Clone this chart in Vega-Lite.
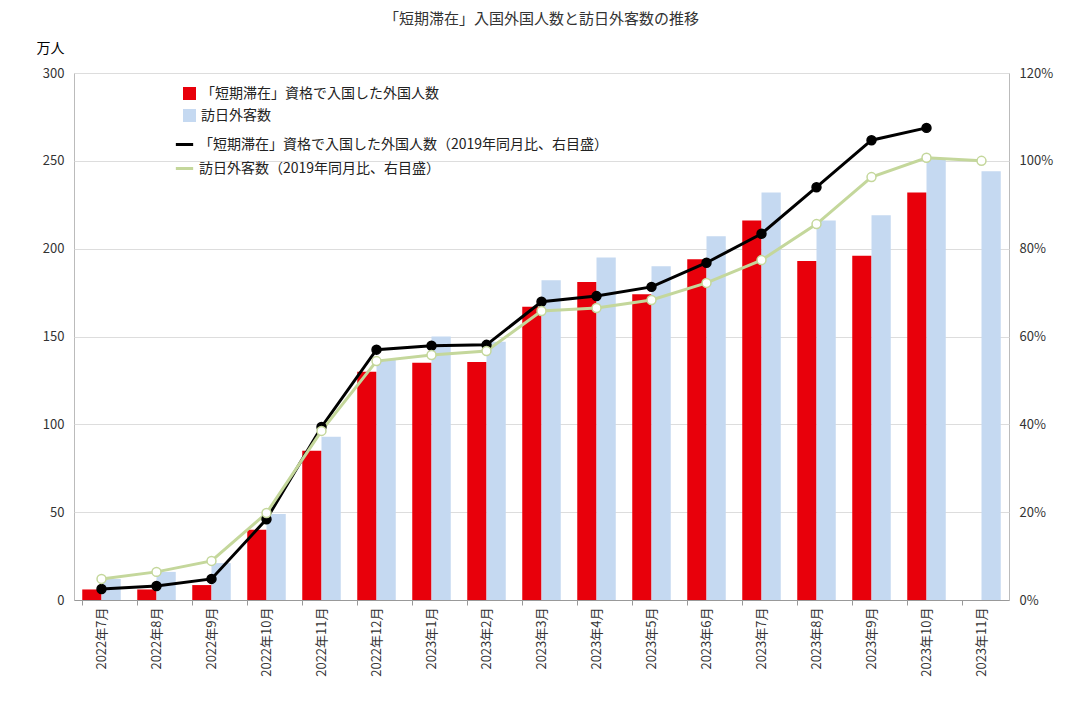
{
  "$schema": "https://vega.github.io/schema/vega-lite/v6.json",
  "width": 935,
  "height": 527,
  "padding": {"left": 36, "top": 12, "right": 10, "bottom": 5},
  "title": {"text": "「短期滞在」入国外国人数と訪日外客数の推移", "fontSize": 15, "font": "Noto Sans CJK JP", "fontWeight": "normal", "color": "#333", "offset": 14},
  "config": {"font": "Noto Sans CJK JP", "view": {"stroke": "#bbb"}},
  "datasets": {
    "bars": [
      {"month": "2022年7月", "series": "「短期滞在」資格で入国した外国人数", "value": 6},
      {"month": "2022年8月", "series": "「短期滞在」資格で入国した外国人数", "value": 6},
      {"month": "2022年9月", "series": "「短期滞在」資格で入国した外国人数", "value": 8.5},
      {"month": "2022年10月", "series": "「短期滞在」資格で入国した外国人数", "value": 40},
      {"month": "2022年11月", "series": "「短期滞在」資格で入国した外国人数", "value": 85},
      {"month": "2022年12月", "series": "「短期滞在」資格で入国した外国人数", "value": 130},
      {"month": "2023年1月", "series": "「短期滞在」資格で入国した外国人数", "value": 135},
      {"month": "2023年2月", "series": "「短期滞在」資格で入国した外国人数", "value": 135.5},
      {"month": "2023年3月", "series": "「短期滞在」資格で入国した外国人数", "value": 167},
      {"month": "2023年4月", "series": "「短期滞在」資格で入国した外国人数", "value": 181},
      {"month": "2023年5月", "series": "「短期滞在」資格で入国した外国人数", "value": 174},
      {"month": "2023年6月", "series": "「短期滞在」資格で入国した外国人数", "value": 194},
      {"month": "2023年7月", "series": "「短期滞在」資格で入国した外国人数", "value": 216},
      {"month": "2023年8月", "series": "「短期滞在」資格で入国した外国人数", "value": 193},
      {"month": "2023年9月", "series": "「短期滞在」資格で入国した外国人数", "value": 196},
      {"month": "2023年10月", "series": "「短期滞在」資格で入国した外国人数", "value": 232},
      {"month": "2022年7月", "series": "訪日外客数", "value": 12},
      {"month": "2022年8月", "series": "訪日外客数", "value": 16},
      {"month": "2022年9月", "series": "訪日外客数", "value": 21},
      {"month": "2022年10月", "series": "訪日外客数", "value": 49},
      {"month": "2022年11月", "series": "訪日外客数", "value": 93},
      {"month": "2022年12月", "series": "訪日外客数", "value": 137},
      {"month": "2023年1月", "series": "訪日外客数", "value": 150},
      {"month": "2023年2月", "series": "訪日外客数", "value": 147},
      {"month": "2023年3月", "series": "訪日外客数", "value": 182},
      {"month": "2023年4月", "series": "訪日外客数", "value": 195},
      {"month": "2023年5月", "series": "訪日外客数", "value": 190},
      {"month": "2023年6月", "series": "訪日外客数", "value": 207},
      {"month": "2023年7月", "series": "訪日外客数", "value": 232},
      {"month": "2023年8月", "series": "訪日外客数", "value": 216},
      {"month": "2023年9月", "series": "訪日外客数", "value": 219},
      {"month": "2023年10月", "series": "訪日外客数", "value": 251},
      {"month": "2023年11月", "series": "訪日外客数", "value": 244}
    ],
    "lines": [
      {"month": "2022年7月", "series": "「短期滞在」資格で入国した外国人数（2019年同月比、右目盛）", "value": 0.025},
      {"month": "2022年8月", "series": "「短期滞在」資格で入国した外国人数（2019年同月比、右目盛）", "value": 0.032},
      {"month": "2022年9月", "series": "「短期滞在」資格で入国した外国人数（2019年同月比、右目盛）", "value": 0.048},
      {"month": "2022年10月", "series": "「短期滞在」資格で入国した外国人数（2019年同月比、右目盛）", "value": 0.184},
      {"month": "2022年11月", "series": "「短期滞在」資格で入国した外国人数（2019年同月比、右目盛）", "value": 0.394},
      {"month": "2022年12月", "series": "「短期滞在」資格で入国した外国人数（2019年同月比、右目盛）", "value": 0.57},
      {"month": "2023年1月", "series": "「短期滞在」資格で入国した外国人数（2019年同月比、右目盛）", "value": 0.579},
      {"month": "2023年2月", "series": "「短期滞在」資格で入国した外国人数（2019年同月比、右目盛）", "value": 0.581},
      {"month": "2023年3月", "series": "「短期滞在」資格で入国した外国人数（2019年同月比、右目盛）", "value": 0.679},
      {"month": "2023年4月", "series": "「短期滞在」資格で入国した外国人数（2019年同月比、右目盛）", "value": 0.692},
      {"month": "2023年5月", "series": "「短期滞在」資格で入国した外国人数（2019年同月比、右目盛）", "value": 0.713},
      {"month": "2023年6月", "series": "「短期滞在」資格で入国した外国人数（2019年同月比、右目盛）", "value": 0.768},
      {"month": "2023年7月", "series": "「短期滞在」資格で入国した外国人数（2019年同月比、右目盛）", "value": 0.834},
      {"month": "2023年8月", "series": "「短期滞在」資格で入国した外国人数（2019年同月比、右目盛）", "value": 0.94},
      {"month": "2023年9月", "series": "「短期滞在」資格で入国した外国人数（2019年同月比、右目盛）", "value": 1.047},
      {"month": "2023年10月", "series": "「短期滞在」資格で入国した外国人数（2019年同月比、右目盛）", "value": 1.075},
      {"month": "2022年7月", "series": "訪日外客数（2019年同月比、右目盛）", "value": 0.048},
      {"month": "2022年8月", "series": "訪日外客数（2019年同月比、右目盛）", "value": 0.064},
      {"month": "2022年9月", "series": "訪日外客数（2019年同月比、右目盛）", "value": 0.089},
      {"month": "2022年10月", "series": "訪日外客数（2019年同月比、右目盛）", "value": 0.198},
      {"month": "2022年11月", "series": "訪日外客数（2019年同月比、右目盛）", "value": 0.385},
      {"month": "2022年12月", "series": "訪日外客数（2019年同月比、右目盛）", "value": 0.544},
      {"month": "2023年1月", "series": "訪日外客数（2019年同月比、右目盛）", "value": 0.558},
      {"month": "2023年2月", "series": "訪日外客数（2019年同月比、右目盛）", "value": 0.567},
      {"month": "2023年3月", "series": "訪日外客数（2019年同月比、右目盛）", "value": 0.658},
      {"month": "2023年4月", "series": "訪日外客数（2019年同月比、右目盛）", "value": 0.665},
      {"month": "2023年5月", "series": "訪日外客数（2019年同月比、右目盛）", "value": 0.683},
      {"month": "2023年6月", "series": "訪日外客数（2019年同月比、右目盛）", "value": 0.722},
      {"month": "2023年7月", "series": "訪日外客数（2019年同月比、右目盛）", "value": 0.774},
      {"month": "2023年8月", "series": "訪日外客数（2019年同月比、右目盛）", "value": 0.856},
      {"month": "2023年9月", "series": "訪日外客数（2019年同月比、右目盛）", "value": 0.963},
      {"month": "2023年10月", "series": "訪日外客数（2019年同月比、右目盛）", "value": 1.007},
      {"month": "2023年11月", "series": "訪日外客数（2019年同月比、右目盛）", "value": 1.0}
    ]
  },
  "encoding": {
    "x": {"field": "month", "type": "nominal", "sort": null, "title": null,
      "scale": {"paddingInner": 0.3, "paddingOuter": 0.15},
      "axis": {"labelAngle": -90, "labelFontSize": 13, "labelColor": "#333", "domainColor": "#999", "tickColor": "#999", "ticks": true, "bandPosition": 0}
    }
  },
  "layer": [
    {
      "data": {"name": "bars"},
      "mark": {"type": "bar"},
      "encoding": {
        "xOffset": {"field": "series", "type": "nominal", "sort": null},
        "y": {"field": "value", "type": "quantitative", "scale": {"domain": [0, 300]},
          "axis": {"title": "万人", "titleAngle": 0, "titleAlign": "left", "titleX": -38, "titleY": -18, "titleFontSize": 14, "titleFontWeight": "normal", "values": [0, 50, 100, 150, 200, 250, 300], "labelFontSize": 13, "labelColor": "#333", "gridColor": "#ddd", "domain": false, "ticks": false, "labelPadding": 10}},
        "fill": {"field": "series", "type": "nominal", "sort": null,
          "scale": {"range": ["#e8000b", "#c5d9f1"]},
          "legend": {"title": null, "orient": "none", "legendX": 108, "legendY": 13, "symbolType": "square", "symbolSize": 170, "labelFontSize": 14, "labelColor": "#222", "rowPadding": 7, "labelLimit": 0}}
      }
    },
    {
      "data": {"name": "lines"},
      "encoding": {
        "y": {"field": "value", "type": "quantitative", "scale": {"domain": [0, 1.2]},
          "axis": {"orient": "right", "title": null, "format": ".0%", "values": [0, 0.2, 0.4, 0.6, 0.8, 1.0, 1.2], "labelFontSize": 13, "labelColor": "#333", "grid": false, "domain": false, "ticks": false, "labelPadding": 10}},
        "stroke": {"field": "series", "type": "nominal", "sort": null,
          "scale": {"range": ["#000000", "#c4d79b"]},
          "legend": {"title": null, "orient": "none", "legendX": 100, "legendY": 61, "symbolType": "stroke", "symbolStrokeWidth": 3, "symbolSize": 300, "labelFontSize": 14, "labelColor": "#222", "rowPadding": 6, "labelLimit": 0}}
      },
      "layer": [
        {"mark": {"type": "line", "strokeWidth": 3}},
        {"transform": [{"filter": "indexof(datum.series, '短期') >= 0"}],
          "mark": {"type": "point", "filled": true, "fill": "#000", "size": 80, "strokeWidth": 1.5, "opacity": 1}},
        {"transform": [{"filter": "indexof(datum.series, '短期') < 0"}],
          "mark": {"type": "point", "filled": true, "fill": "#fff", "size": 80, "strokeWidth": 1.5, "opacity": 1}}
      ]
    }
  ],
  "resolve": {"scale": {"y": "independent", "xOffset": "shared"}}
}
